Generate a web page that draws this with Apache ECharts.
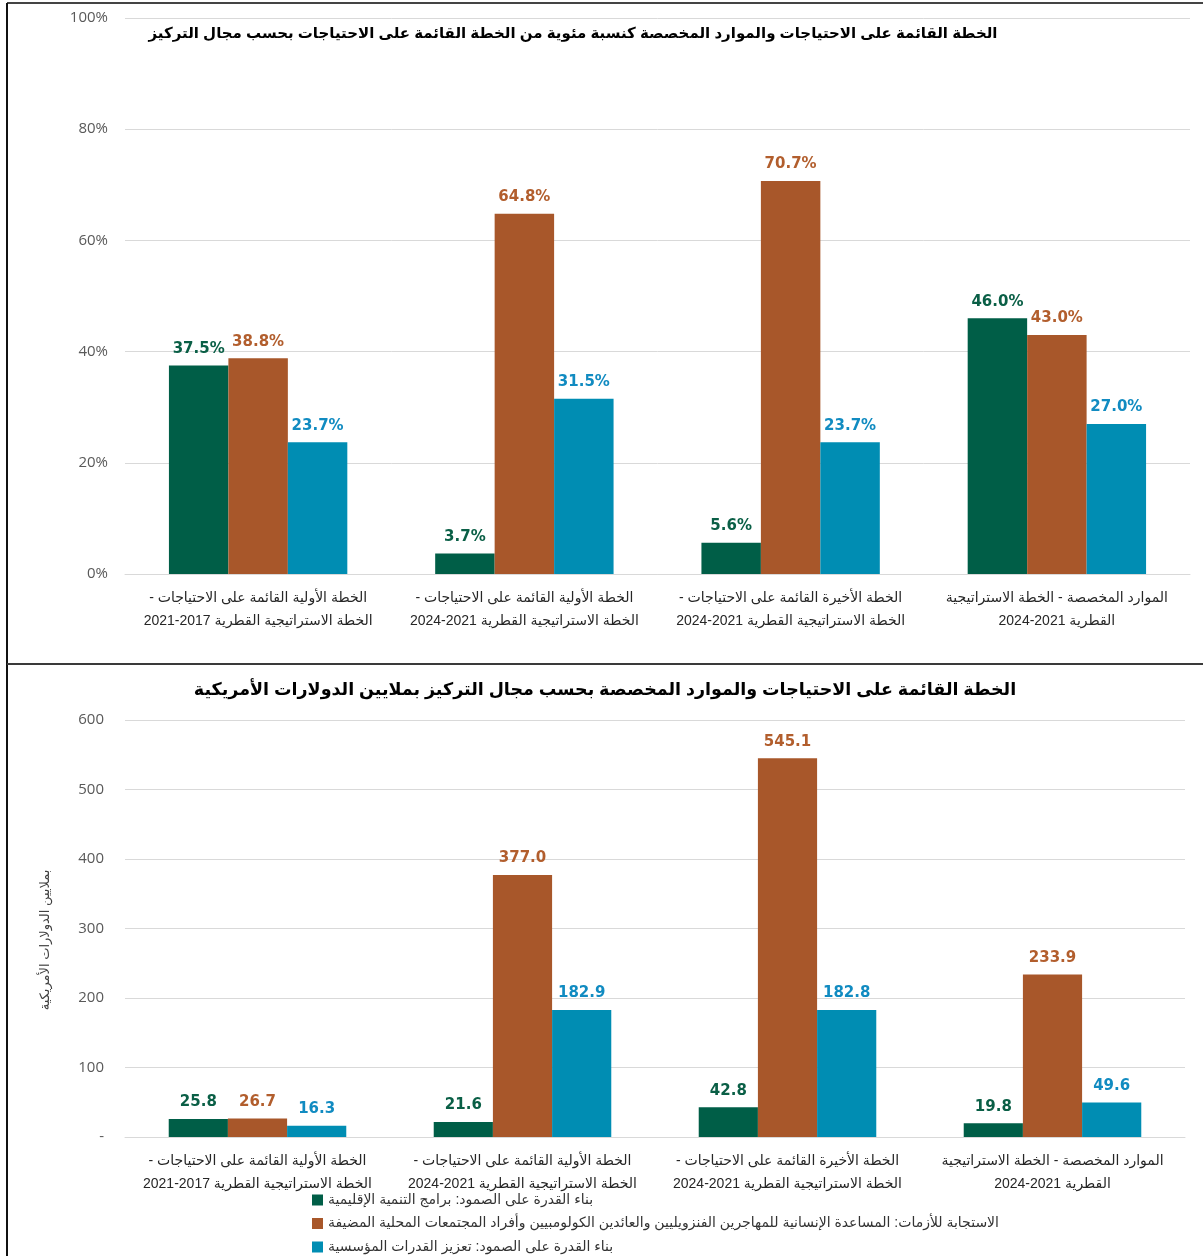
<!DOCTYPE html>
<html lang="ar">
<head>
<meta charset="utf-8">
<script src="https://cdn.jsdelivr.net/npm/echarts@6/dist/echarts.min.js"></script>
<style>
  html, body { margin: 0; padding: 0; background: #fff; }
  #chart { width: 1203px; height: 1256px; }
</style>
</head>
<body>
<div id="chart" dir="rtl"></div>
<script>
// Focus areas (bar series)
const seriesNames = [
  'بناء القدرة على الصمود: برامج التنمية الإقليمية',
  'الاستجابة للأزمات: المساعدة الإنسانية للمهاجرين الفنزويليين والعائدين الكولومبيين وأفراد المجتمعات المحلية المضيفة',
  'بناء القدرة على الصمود: تعزيز القدرات المؤسسية'
];

// Plan / resource categories (the year ranges use U+2010 so they read right-to-left)
const categories = [
  'الخطة الأولية القائمة على الاحتياجات -\nالخطة الاستراتيجية القطرية 2017\u20102021',
  'الخطة الأولية القائمة على الاحتياجات -\nالخطة الاستراتيجية القطرية 2021\u20102024',
  'الخطة الأخيرة القائمة على الاحتياجات -\nالخطة الاستراتيجية القطرية 2021\u20102024',
  'الموارد المخصصة - الخطة الاستراتيجية\nالقطرية 2021\u20102024'
];

// Share of the needs-based plan (%)
const pctResilienceRegional = [37.5, 3.7, 5.6, 46.0];
const pctCrisisResponse     = [38.8, 64.8, 70.7, 43.0];
const pctResilienceInstit   = [23.7, 31.5, 23.7, 27.0];

// Amounts in millions of US dollars
const usdResilienceRegional = [25.8, 21.6, 42.8, 19.8];
const usdCrisisResponse     = [26.7, 377.0, 545.1, 233.9];
const usdResilienceInstit   = [16.3, 182.9, 182.8, 49.6];

const titleTop = 'الخطة القائمة على الاحتياجات والموارد المخصصة كنسبة مئوية من الخطة القائمة على الاحتياجات بحسب مجال التركيز';
const titleBottom = 'الخطة القائمة على الاحتياجات والموارد المخصصة بحسب مجال التركيز بملايين الدولارات الأمريكية';
const usdAxisName = 'بملايين الدولارات الأمريكية';

const barColors = ['#005E47', '#A8572A', '#008DB3'];
const labelColors = ['#0A5F46', '#B25E2D', '#118BC1'];

const fontAr = "Arial, 'Liberation Sans', 'DejaVu Sans', sans-serif";
const fontNum = "'Open Sans', 'DejaVu Sans', sans-serif";

function barSeries(name, data, idx, axisIdx, fmt) {
  return {
    type: 'bar',
    name: name,
    data: data,
    xAxisIndex: axisIdx,
    yAxisIndex: axisIdx,
    barGap: '0%',
    barCategoryGap: '33%',
    itemStyle: { color: barColors[idx] },
    label: {
      show: true,
      position: 'top',
      distance: 9,
      color: labelColors[idx],
      fontFamily: "'DejaVu Sans', Verdana, sans-serif",
      fontWeight: 'bold',
      fontSize: 15,
      formatter: p => fmt(p.value)
    },
    emphasis: { disabled: true },
    animation: false
  };
}

const pctFmt = v => v.toFixed(1) + '%';
const usdFmt = v => v.toFixed(1);

const xAxisCommon = {
  type: 'category',
  data: categories,
  axisTick: { show: false },
  axisLine: { lineStyle: { color: '#d9d9d9', width: 1 } },
  axisLabel: {
    interval: 0,
    margin: 13,
    color: '#262626',
    fontFamily: fontAr,
    fontSize: 14,
    lineHeight: 23,
    align: 'center'
  }
};

const chart = echarts.init(document.getElementById('chart'), null, { renderer: 'canvas' });

chart.setOption({
  backgroundColor: '#ffffff',
  animation: false,
  grid: [
    { left: 125, right: 13, top: 18, bottom: 682, containLabel: false },
    { left: 125, right: 18, top: 720, bottom: 119, containLabel: false }
  ],
  xAxis: [
    Object.assign({ gridIndex: 0 }, xAxisCommon),
    Object.assign({ gridIndex: 1 }, xAxisCommon)
  ],
  yAxis: [
    {
      gridIndex: 0,
      type: 'value',
      min: 0, max: 100, interval: 20,
      axisLine: { show: false },
      axisTick: { show: false },
      splitLine: { lineStyle: { color: '#d9d9d9', width: 1 } },
      axisLabel: {
        margin: 17,
        color: '#595959',
        fontFamily: fontNum,
        fontSize: 15,
        formatter: '{value}%'
      }
    },
    {
      gridIndex: 1,
      type: 'value',
      min: 0, max: 600, interval: 100,
      axisLine: { show: false },
      axisTick: { show: false },
      splitLine: { lineStyle: { color: '#d9d9d9', width: 1 } },
      axisLabel: {
        margin: 21,
        color: '#595959',
        fontFamily: fontNum,
        fontSize: 15,
        formatter: v => (v === 0 ? '-' : String(v))
      }
    }
  ],
  legend: {
    data: seriesNames,
    orient: 'vertical',
    left: 312,
    top: 1193,
    padding: 0,
    itemWidth: 11,
    itemHeight: 11,
    itemGap: 9.5,
    icon: 'rect',
    selectedMode: false,
    textStyle: { color: '#333333', fontFamily: fontAr, fontSize: 14, lineHeight: 14 }
  },
  series: [
    barSeries(seriesNames[0], pctResilienceRegional, 0, 0, pctFmt),
    barSeries(seriesNames[1], pctCrisisResponse, 1, 0, pctFmt),
    barSeries(seriesNames[2], pctResilienceInstit, 2, 0, pctFmt),
    barSeries(seriesNames[0], usdResilienceRegional, 0, 1, usdFmt),
    barSeries(seriesNames[1], usdCrisisResponse, 1, 1, usdFmt),
    barSeries(seriesNames[2], usdResilienceInstit, 2, 1, usdFmt)
  ],
  graphic: [
    // frame lines
    { type: 'line', shape: { x1: 7, y1: 3, x2: 1203, y2: 3 }, style: { stroke: '#444', lineWidth: 2 }, silent: true },
    { type: 'line', shape: { x1: 7, y1: 3, x2: 7, y2: 1256 }, style: { stroke: '#111', lineWidth: 2 }, silent: true },
    { type: 'line', shape: { x1: 7, y1: 664, x2: 1203, y2: 664 }, style: { stroke: '#3a3a3a', lineWidth: 2 }, silent: true },
    // chart titles
    {
      type: 'text', x: 573, y: 34, silent: true,
      style: {
        text: titleTop, fill: '#000', font: 'bold 15px ' + fontAr,
        textAlign: 'center', textVerticalAlign: 'middle'
      }
    },
    {
      type: 'text', x: 605, y: 690, silent: true,
      style: {
        text: titleBottom, fill: '#000', font: 'bold 17.5px ' + fontAr,
        textAlign: 'center', textVerticalAlign: 'middle'
      }
    },
    // value-axis title of the lower chart
    {
      type: 'text', x: 45, y: 940, rotation: Math.PI / 2, silent: true,
      style: {
        text: usdAxisName, fill: '#404040', font: '13px ' + fontAr,
        textAlign: 'center', textVerticalAlign: 'middle'
      }
    }
  ]
});
</script>
</body>
</html>
